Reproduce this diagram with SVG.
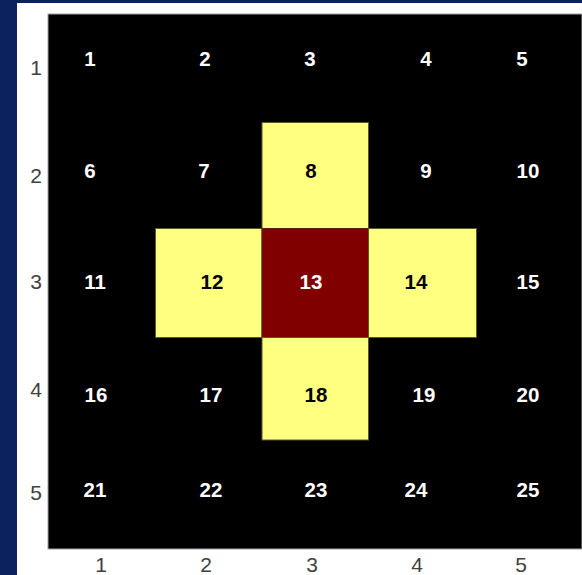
<svg xmlns="http://www.w3.org/2000/svg" width="582" height="575" viewBox="0 0 582 575">
<style>
.n{font-family:"Liberation Sans",Arial,sans-serif;font-weight:bold;font-size:20.5px;text-anchor:middle}
.w{fill:#ffffff}
.k{fill:#000000}
.t{font-family:"Liberation Sans",Arial,sans-serif;font-size:21px;fill:#404040;text-anchor:middle}
.y{fill:#ffff80;stroke:#5a5a28;stroke-width:1}
.r{fill:#800000;stroke:#5a2020;stroke-width:1}
</style>
<rect x="0" y="0" width="582" height="575" fill="#0c225f"/>
<rect x="17" y="3" width="565" height="572" fill="#ffffff"/>
<rect x="48" y="14" width="534" height="535" fill="#000000" stroke="#a0a0a0" stroke-width="1"/>
<g id="axes">
<text class="t" x="36" y="75">1</text>
<text class="t" x="36" y="183">2</text>
<text class="t" x="36" y="289">3</text>
<text class="t" x="36" y="397">4</text>
<text class="t" x="36" y="500">5</text>
<text class="t" x="101" y="572">1</text>
<text class="t" x="206" y="572">2</text>
<text class="t" x="312" y="572">3</text>
<text class="t" x="417" y="572">4</text>
<text class="t" x="521" y="572">5</text>
</g>
<g id="cell1"><text class="n w" x="90" y="66">1</text></g>
<g id="cell2"><text class="n w" x="205" y="66">2</text></g>
<g id="cell3"><text class="n w" x="310" y="66">3</text></g>
<g id="cell4"><text class="n w" x="426" y="66">4</text></g>
<g id="cell5"><text class="n w" x="522" y="66">5</text></g>
<g id="cell6"><text class="n w" x="90" y="178">6</text></g>
<g id="cell7"><text class="n w" x="204" y="178">7</text></g>
<g id="cell8"><rect class="y" x="262" y="122.5" width="106.5" height="106"/><text class="n k" x="311" y="178">8</text></g>
<g id="cell9"><text class="n w" x="426" y="178">9</text></g>
<g id="cell10"><text class="n w" x="528" y="178">10</text></g>
<g id="cell11"><text class="n w" x="95" y="289">11</text></g>
<g id="cell12"><rect class="y" x="155.5" y="228.5" width="106.5" height="109"/><text class="n k" x="212" y="289">12</text></g>
<g id="cell13"><rect class="r" x="262" y="228.5" width="106.5" height="109"/><text class="n w" x="311" y="289">13</text></g>
<g id="cell14"><rect class="y" x="368.5" y="228.5" width="108" height="109"/><text class="n k" x="416" y="289">14</text></g>
<g id="cell15"><text class="n w" x="528" y="289">15</text></g>
<g id="cell16"><text class="n w" x="96" y="402">16</text></g>
<g id="cell17"><text class="n w" x="211" y="402">17</text></g>
<g id="cell18"><rect class="y" x="262" y="337.5" width="106.5" height="102.5"/><text class="n k" x="316" y="402">18</text></g>
<g id="cell19"><text class="n w" x="424" y="402">19</text></g>
<g id="cell20"><text class="n w" x="528" y="402">20</text></g>
<g id="cell21"><text class="n w" x="95" y="497">21</text></g>
<g id="cell22"><text class="n w" x="211" y="497">22</text></g>
<g id="cell23"><text class="n w" x="316" y="497">23</text></g>
<g id="cell24"><text class="n w" x="416" y="497">24</text></g>
<g id="cell25"><text class="n w" x="528" y="497">25</text></g>
</svg>
